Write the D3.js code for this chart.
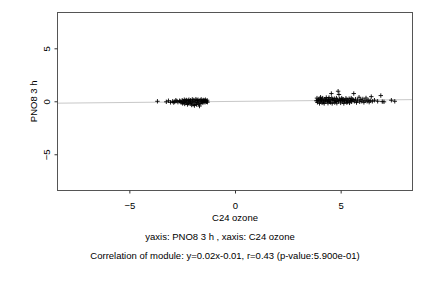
<!DOCTYPE html>
<html lang="en">
<head>
  <meta charset="UTF-8">
  <title>C24 ozone vs PNO8 3 h</title>
  <script src="https://cdn.jsdelivr.net/npm/d3@7"></script>
  <style>
    body { margin: 0; background: #fff; }
    text { font-family: "Liberation Sans", Arial, sans-serif; font-size: 9.5px; fill: #000; }
    .tick line { stroke: #333; }
  </style>
</head>
<body>
  <div id="chart"></div>
  <script>
    // cluster on the negative side
    const ozoneA = [-3.67, -3.25, -3.15, -3.05, -2.95, -2.9, -2.85, -2.8, -2.75, -2.7, -2.62, -2.6, -2.55,
      -2.5, -2.48, -2.45, -2.42, -2.4, -2.38, -2.35, -2.32, -2.3, -2.28, -2.25, -2.22, -2.2, -2.18, -2.15,
      -2.12, -2.1, -2.08, -2.05, -2.02, -2.0, -1.98, -1.95, -1.92, -1.9, -1.88, -1.85, -1.82, -1.8, -1.78,
      -1.75, -1.72, -1.7, -1.68, -1.65, -1.62, -1.6, -1.58, -1.55, -1.52, -1.5, -1.48, -1.45, -1.42, -1.4,
      -1.38, -1.35, -1.32, -1.3];
    const pnoA = [0.0, -0.05, 0.05, -0.1, 0.0, -0.12, -0.05, 0.1, 0.02, -0.08, 0.05, -0.02, -0.12,
      0.1, -0.2, 0.0, -0.1, 0.15, -0.25, 0.05, -0.15, 0.12, -0.05, -0.3, 0.08, -0.18, 0.15, 0.0,
      -0.22, 0.1, -0.1, -0.35, 0.18, -0.05, -0.28, 0.12, -0.4, 0.02, -0.15, 0.2, -0.3, 0.08, -0.1,
      0.15, -0.25, 0.0, -0.45, 0.1, -0.2, 0.18, -0.08, 0.05, -0.15, 0.12, -0.02, 0.08, -0.1, 0.15,
      0.0, -0.05, 0.1, -0.08];

    // cluster on the positive side
    const ozoneB = [3.85, 3.88, 3.9, 3.92, 3.95, 4.0, 4.02, 4.05, 4.05, 4.08, 4.1, 4.12, 4.15, 4.18, 4.2,
      4.22, 4.25, 4.28, 4.3, 4.32, 4.35, 4.38, 4.4, 4.42, 4.45, 4.45, 4.48, 4.5, 4.52, 4.56, 4.58, 4.6,
      4.62, 4.65, 4.7, 4.72, 4.75, 4.78, 4.8, 4.82, 4.85, 4.88, 4.9, 4.92, 4.95, 4.98, 5.0, 5.02, 5.05,
      5.08, 5.1, 5.12, 5.15, 5.18, 5.2, 5.25, 5.28, 5.3, 5.32, 5.35, 5.4, 5.42, 5.45, 5.48, 5.5, 5.52,
      5.55, 5.6, 5.62, 5.65, 5.7, 5.75, 5.8, 5.87, 5.9, 5.95, 6.0, 6.05, 6.1, 6.15, 6.2, 6.25, 6.3,
      6.35, 6.4, 6.45, 6.5, 6.6, 6.75, 6.9, 6.97, 7.05, 7.4, 7.56];
    const pnoB = [0.05, 0.3, -0.1, 0.08, 0.15, -0.2, 0.25, 0.0, 0.38, 0.18, 0.1, -0.15, 0.3, -0.08, 0.05,
      -0.2, 0.2, 0.12, -0.05, 0.35, 0.1, 0.02, -0.18, 0.22, 0.0, 0.35, -0.05, 0.15, -0.1, 0.73, 0.3, -0.2,
      0.18, 0.08, 0.25, -0.12, 0.05, -0.02, 0.3, -0.18, 0.12, 0.95, 0.0, 0.64, 0.22, 0.08, -0.15, 0.1, 0.3,
      0.15, -0.05, 0.2, -0.2, 0.02, 0.08, 0.28, -0.1, 0.15, -0.08, 0.0, 0.25, -0.15, 0.1, 0.05, 0.3, -0.05,
      0.18, 0.12, 0.73, 0.0, 0.2, -0.12, 0.1, 0.38, -0.05, 0.15, 0.0, 0.22, -0.1, 0.05, 0.31, 0.0, 0.12,
      -0.08, 0.05, 0.44, 0.0, 0.1, 0.0, 0.54, -0.03, -0.05, 0.1, 0.0];

    const xTicks = [-5, 0, 5];
    const yTicks = [-5, 0, 5];
    const slope = 0.02, intercept = -0.01;

    const w = 432, h = 288;
    const plotLeft = 57.5, plotRight = 412.5, plotTop = 12.5, plotBottom = 190.5;

    const points = ozoneA.map((x, i) => [x, pnoA[i]])
      .concat(ozoneB.map((x, i) => [x, pnoB[i]]));

    const xScale = d3.scaleLinear().domain([-8.4, 8.4]).range([plotLeft, plotRight]);
    const yScale = d3.scaleLinear().domain([-8.42, 8.38]).range([plotBottom, plotTop]);

    const svg = d3.select("#chart").append("svg")
      .attr("width", w)
      .attr("height", h);

    // fitted line
    svg.append("line")
      .attr("x1", xScale(-8.4)).attr("y1", yScale(slope * -8.4 + intercept))
      .attr("x2", xScale(8.4)).attr("y2", yScale(slope * 8.4 + intercept))
      .attr("stroke", "#c8c8c8")
      .attr("stroke-width", 1);

    // points drawn as "+"
    const s = 2.2;
    svg.append("g").selectAll("path")
      .data(points)
      .enter()
      .append("path")
      .attr("d", d => {
        const px = xScale(d[0]), py = yScale(d[1]);
        return `M${px - s},${py}H${px + s}M${px},${py - s}V${py + s}`;
      })
      .attr("stroke", "#000")
      .attr("stroke-width", 0.9)
      .attr("fill", "none");

    // frame
    svg.append("rect")
      .attr("x", plotLeft).attr("y", plotTop)
      .attr("width", plotRight - plotLeft).attr("height", plotBottom - plotTop)
      .attr("fill", "none")
      .attr("stroke", "#555");

    const xAxis = d3.axisBottom(xScale).tickValues(xTicks).tickSize(3).tickPadding(8.5).tickFormat(d3.format("d"));
    const yAxis = d3.axisLeft(yScale).tickValues(yTicks).tickSize(3).tickFormat(d3.format("d"));

    svg.append("g")
      .attr("transform", `translate(0,${plotBottom})`)
      .call(xAxis)
      .call(g => g.select(".domain").remove());

    svg.append("g")
      .attr("transform", `translate(${plotLeft},0)`)
      .call(yAxis)
      .call(g => g.select(".domain").remove())
      .call(g => g.selectAll("text")
        .attr("text-anchor", "middle")
        .attr("dy", "0.35em")
        .attr("x", 0)
        .attr("transform", "translate(-10.5,0) rotate(-90)"));
    svg.selectAll("g").attr("font-size", null).attr("font-family", null);

    svg.append("text")
      .attr("x", xScale(0)).attr("y", 221)
      .attr("text-anchor", "middle")
      .text("C24 ozone");

    svg.append("text")
      .attr("transform", `translate(37,${yScale(0)}) rotate(-90)`)
      .attr("text-anchor", "middle")
      .text("PNO8 3 h");

    svg.append("text")
      .attr("x", 220).attr("y", 240)
      .attr("text-anchor", "middle")
      .text("yaxis: PNO8 3 h , xaxis: C24 ozone");

    svg.append("text")
      .attr("x", 225).attr("y", 259)
      .attr("text-anchor", "middle")
      .text("Correlation of module: y=0.02x-0.01, r=0.43 (p-value:5.900e-01)");
  </script>
</body>
</html>
